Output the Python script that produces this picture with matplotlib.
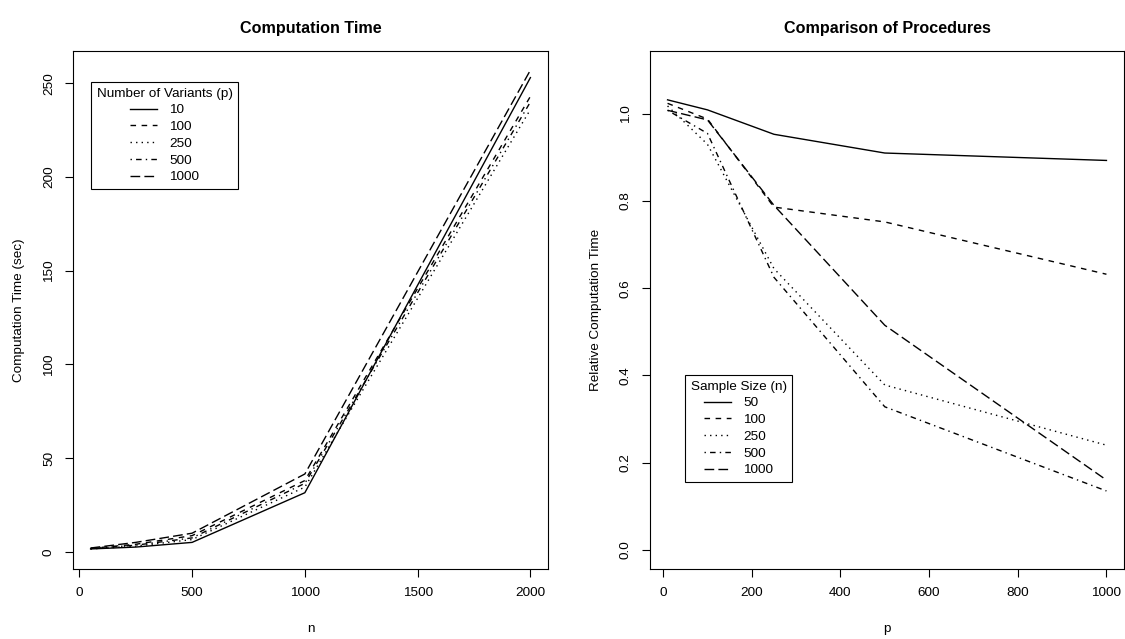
# Computation time and relative time of the procedures (R base-graphics look)
import matplotlib
matplotlib.use("Agg")
import matplotlib.pyplot as plt

plt.rcParams['font.family'] = ['Liberation Sans', 'DejaVu Sans']

# Left panel: computation time (sec) vs sample size n, one line per p
n_values = [50, 250, 500, 1000, 2000]
p_labels = ["10", "100", "250", "500", "1000"]
time_p10 = [1.5, 2.5, 5.0, 31.5, 253]
time_p100 = [1.8, 4.0, 8.6, 38.0, 243]
time_p250 = [1.5, 3.0, 6.5, 34.5, 236]
time_p500 = [1.7, 3.5, 7.4, 36.5, 240]
time_p1000 = [2.0, 5.0, 9.9, 41.5, 257]

# Right panel: relative computation time vs p, one line per n
p_values = [10, 100, 250, 500, 1000]
n_labels = ["50", "100", "250", "500", "1000"]
rel_n50 = [1.032, 1.009, 0.953, 0.910, 0.893]
rel_n100 = [1.024, 0.988, 0.786, 0.752, 0.632]
rel_n250 = [1.018, 0.930, 0.645, 0.378, 0.240]
rel_n500 = [1.008, 0.955, 0.625, 0.328, 0.135]
rel_n1000 = [1.008, 0.986, 0.790, 0.515, 0.160]

# R lty 1..5
styles = [
    dict(linestyle='-'),
    dict(dashes=(4, 4)),
    dict(dashes=(1, 3)),
    dict(dashes=(1, 3, 4, 3)),
    dict(dashes=(7, 3)),
]

FS = 9.7
fig = plt.figure(figsize=(11.25, 6.39), dpi=100)
W, H = 1125, 639
ax1 = fig.add_axes([73 / W, 1 - 569 / H, 475 / W, 518 / H])
ax2 = fig.add_axes([650 / W, 1 - 569 / H, 474 / W, 518 / H])


def r_axes(ax):
    for s in ax.spines.values():
        s.set_linewidth(0.8)
        s.set_color('black')
    ax.tick_params(direction='out', length=6, width=0.8, pad=7,
                   labelsize=FS, color='black')
    for lab in ax.get_yticklabels():
        lab.set_rotation(90)
        lab.set_va('center')


def r_legend(ax, labels, title, x, y):
    leg = ax.legend(labels, title=title, loc='upper left',
                    bbox_to_anchor=(x / W, 1 - y / H),
                    bbox_transform=fig.transFigure, borderaxespad=0,
                    fontsize=FS, title_fontsize=FS, fancybox=False,
                    edgecolor='black', framealpha=1, handlelength=2.0,
                    handletextpad=0.9, labelspacing=0.32, borderpad=0.42)
    leg.get_frame().set_linewidth(0.8)


# left
for y, st in zip([time_p10, time_p100, time_p250, time_p500, time_p1000], styles):
    ax1.plot(n_values, y, color='black', lw=1.0, **st)
ax1.set_xlim(-28, 2078)
ax1.set_ylim(-9.2, 267.2)
ax1.set_xticks([0, 500, 1000, 1500, 2000])
ax1.set_yticks([0, 50, 100, 150, 200, 250])
r_axes(ax1)
ax1.set_title("Computation Time", fontsize=11.6, fontweight='bold', pad=13)
ax1.set_xlabel("n", fontsize=FS, labelpad=17)
ax1.set_ylabel("Computation Time (sec)", fontsize=FS, labelpad=13)
r_legend(ax1, p_labels, "Number of Variants (p)", 91, 82)

# right
for y, st in zip([rel_n50, rel_n100, rel_n250, rel_n500, rel_n1000], styles):
    ax2.plot(p_values, y, color='black', lw=1.0, **st)
ax2.set_xlim(-29.6, 1039.6)
ax2.set_ylim(-0.044, 1.144)
ax2.set_xticks([0, 200, 400, 600, 800, 1000])
ax2.set_yticks([0.0, 0.2, 0.4, 0.6, 0.8, 1.0])
ax2.set_yticklabels(["0.0", "0.2", "0.4", "0.6", "0.8", "1.0"])
r_axes(ax2)
ax2.set_title("Comparison of Procedures", fontsize=11.6, fontweight='bold', pad=13)
ax2.set_xlabel("p", fontsize=FS, labelpad=17)
ax2.set_ylabel("Relative Computation Time", fontsize=FS, labelpad=13)
r_legend(ax2, n_labels, "Sample Size (n)", 685, 375)

fig.savefig("out.png", dpi=100)
